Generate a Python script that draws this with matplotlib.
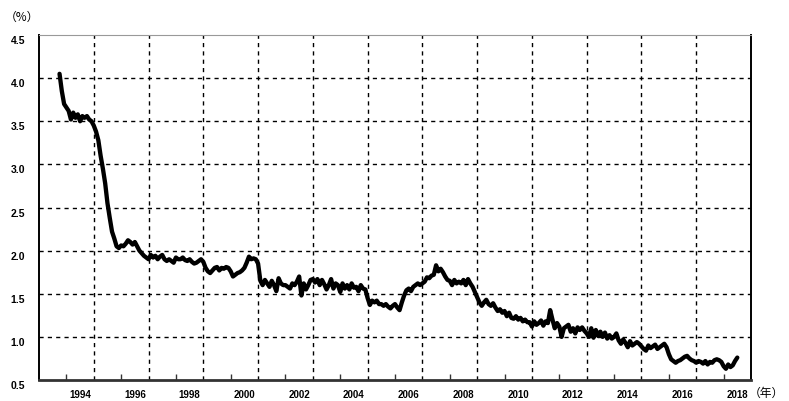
import numpy as np
import matplotlib
matplotlib.use("Agg")
import matplotlib.pyplot as plt
from matplotlib.transforms import ScaledTranslation

# Monthly values, Oct 1993 .. Jul 2018 (%)
v1993 = [4.05, 3.85, 3.70]
v1994 = [3.66, 3.62, 3.52, 3.60, 3.54, 3.58, 3.50, 3.56, 3.54, 3.56, 3.52, 3.50]
v1995 = [3.45, 3.38, 3.28, 3.10, 2.95, 2.78, 2.55, 2.38, 2.22, 2.14, 2.05, 2.03]
v1996 = [2.06, 2.05, 2.08, 2.12, 2.10, 2.07, 2.10, 2.05, 2.00, 1.97, 1.94, 1.92]
v1997 = [1.90, 1.95, 1.92, 1.94, 1.90, 1.93, 1.95, 1.90, 1.88, 1.90, 1.88, 1.86]
v1998 = [1.92, 1.90, 1.90, 1.92, 1.89, 1.88, 1.90, 1.87, 1.85, 1.86, 1.88, 1.90]
v1999 = [1.87, 1.80, 1.76, 1.74, 1.77, 1.80, 1.81, 1.77, 1.80, 1.79, 1.81, 1.80]
v2000 = [1.76, 1.70, 1.72, 1.74, 1.75, 1.77, 1.80, 1.86, 1.93, 1.90, 1.91, 1.90]
v2001 = [1.85, 1.65, 1.60, 1.66, 1.62, 1.58, 1.65, 1.60, 1.53, 1.68, 1.62, 1.60]
v2002 = [1.60, 1.58, 1.56, 1.62, 1.60, 1.64, 1.70, 1.48, 1.62, 1.55, 1.60, 1.66]
v2003 = [1.67, 1.63, 1.67, 1.60, 1.66, 1.61, 1.55, 1.60, 1.67, 1.56, 1.62, 1.60]
v2004 = [1.52, 1.62, 1.56, 1.60, 1.55, 1.62, 1.57, 1.58, 1.53, 1.60, 1.56, 1.55]
v2005 = [1.45, 1.37, 1.42, 1.40, 1.42, 1.38, 1.38, 1.36, 1.38, 1.35, 1.33, 1.36]
v2006 = [1.38, 1.34, 1.31, 1.40, 1.48, 1.54, 1.56, 1.53, 1.58, 1.60, 1.62, 1.60]
v2007 = [1.62, 1.64, 1.69, 1.68, 1.71, 1.72, 1.83, 1.76, 1.79, 1.75, 1.70, 1.66]
v2008 = [1.65, 1.60, 1.66, 1.62, 1.64, 1.62, 1.66, 1.60, 1.67, 1.62, 1.58, 1.52]
v2009 = [1.46, 1.40, 1.36, 1.40, 1.43, 1.38, 1.36, 1.39, 1.34, 1.30, 1.32, 1.28]
v2010 = [1.30, 1.24, 1.28, 1.22, 1.21, 1.24, 1.20, 1.22, 1.18, 1.20, 1.17, 1.17]
v2011 = [1.12, 1.18, 1.14, 1.16, 1.19, 1.13, 1.18, 1.16, 1.31, 1.20, 1.10, 1.16]
v2012 = [1.12, 1.00, 1.10, 1.12, 1.14, 1.06, 1.10, 1.04, 1.11, 1.08, 1.11, 1.07]
v2013 = [1.04, 1.00, 1.10, 0.99, 1.08, 1.01, 1.06, 1.00, 1.05, 0.98, 1.02, 0.98]
v2014 = [1.00, 1.04, 0.96, 0.92, 0.97, 0.93, 0.88, 0.95, 0.90, 0.92, 0.94, 0.92]
v2015 = [0.89, 0.86, 0.84, 0.90, 0.87, 0.89, 0.91, 0.86, 0.88, 0.90, 0.92, 0.88]
v2016 = [0.80, 0.74, 0.72, 0.70, 0.72, 0.73, 0.75, 0.77, 0.78, 0.75, 0.73, 0.72]
v2017 = [0.70, 0.72, 0.71, 0.69, 0.72, 0.68, 0.71, 0.70, 0.73, 0.74, 0.73, 0.71]
v2018 = [0.66, 0.63, 0.68, 0.65, 0.67, 0.72, 0.76]

start_year = 1993
start_month = 10

y_ticks = [0.5, 1.0, 1.5, 2.0, 2.5, 3.0, 3.5, 4.0, 4.5]
y_tick_labels = ["0.5", "1.0", "1.5", "2.0", "2.5", "3.0", "3.5", "4.0", "4.5"]
x_label_years = list(range(1994, 2019, 2))
x_grid_years = list(range(1995, 2018, 2))

values = np.array(v1993 + v1994 + v1995 + v1996 + v1997 + v1998 + v1999 + v2000 +
                  v2001 + v2002 + v2003 + v2004 + v2005 + v2006 + v2007 + v2008 +
                  v2009 + v2010 + v2011 + v2012 + v2013 + v2014 + v2015 + v2016 +
                  v2017 + v2018)
t = start_year + (start_month - 1) / 12 + np.arange(len(values)) / 12

plt.rcParams['font.family'] = ['Liberation Sans', 'DejaVu Sans']

fig = plt.figure(figsize=(7.89, 4.01), dpi=100)
ax = fig.add_axes([39/789, 1 - 380/401, (751 - 39)/789, (380 - 35)/401])

ax.plot(t, values, color='black', lw=3.1, solid_joinstyle='round', solid_capstyle='round', zorder=3)

ax.set_xlim(1993.0, 2019.0)
ax.set_ylim(0.5, 4.5)

dash = (0, (3, 3))

# y axis
ax.set_yticks(y_ticks)
ax.set_yticklabels(y_tick_labels, fontsize=7.5, fontweight='bold')
ax.tick_params(axis='y', which='both', length=0, pad=10)
ax.yaxis.grid(True, color='black', lw=1.0, linestyle=dash)
yt = ax.yaxis.get_major_ticks()
yt[0].gridline.set_visible(False)
yt[-1].gridline.set_visible(False)
for lab in ax.get_yticklabels():
    lab.set_transform(lab.get_transform() + ScaledTranslation(0, -5/100, fig.dpi_scale_trans))

# x axis: grid at odd years, small ticks at even years
ax.set_xticks(x_grid_years)
ax.set_xticklabels([])
ax.tick_params(axis='x', which='major', length=0)
ax.xaxis.grid(True, color='black', lw=1.0, linestyle=dash)
ax.set_xticks(x_label_years, minor=True)
ax.tick_params(axis='x', which='minor', direction='in', length=4, width=1.0, color='#333333')

sec = ax.secondary_xaxis('bottom')
sec.set_xticks([y + 0.5 for y in x_label_years])
sec.set_xticklabels([str(y) for y in x_label_years], fontsize=7, fontweight='bold')
sec.tick_params(length=0, pad=7)
sec.spines['bottom'].set_visible(False)

for side in ['left', 'right']:
    ax.spines[side].set_color('black')
    ax.spines[side].set_linewidth(1.4)
ax.spines['top'].set_color('#999999')
ax.spines['top'].set_linewidth(0.8)
ax.spines['bottom'].set_color('#333333')
ax.spines['bottom'].set_linewidth(2.0)
ax.set_axisbelow(True)

fig.text(22/789, 1 - 17/401, '（%）', fontsize=8.5, ha='center', va='center',
         family=['Noto Sans CJK JP', 'DejaVu Sans'])
fig.text(784/789, 1 - 393/401, '（年）', fontsize=8.5, ha='right', va='center',
         family=['Noto Sans CJK JP', 'DejaVu Sans'])

fig.savefig('out.png', dpi=100)
